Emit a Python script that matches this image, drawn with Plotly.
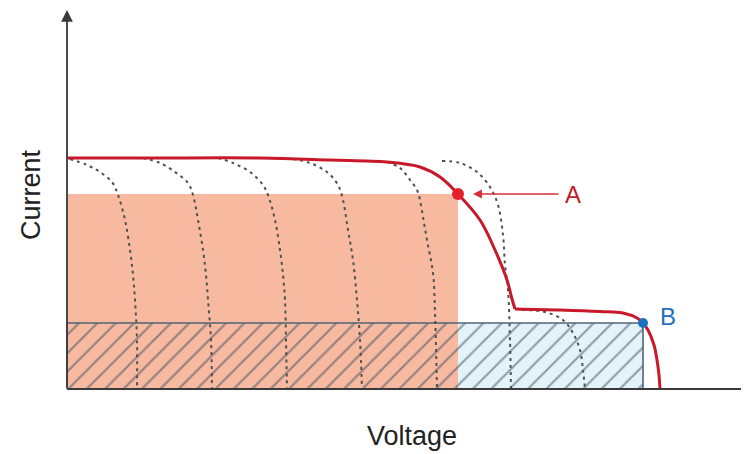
import plotly.graph_objects as go

# ---- data (arbitrary units: voltage, current) ----
main_v1 = [0, 8.3, 19.3, 26.3, 32.0, 35.3, 37.3, 39.1, 41.3, 42.8, 44.0, 44.5, 44.8]
main_i1 = [23.1, 23.1, 23.1, 22.9, 22.7, 22.2, 21.2, 19.5, 16.9, 13.9, 10.9, 9.0, 8.0]
main_v2 = [44.8, 49.3, 53.3, 55.6, 57.0, 57.6, 58.1, 58.7, 59.0, 59.2, 59.3]
main_i2 = [8.0, 7.9, 7.75, 7.6, 7.1, 6.6, 5.9, 4.4, 2.9, 1.4, 0.0]

cell_v = [
    [0.3, 2.0, 3.3, 4.5, 5.1, 5.8, 6.3, 6.6, 6.8, 7.0, 7.0],
    [7.6, 9.3, 10.8, 12.1, 12.6, 13.1, 13.6, 13.9, 14.1, 14.4, 14.5],
    [15.1, 16.6, 18.3, 19.6, 20.1, 20.8, 21.3, 21.6, 21.8, 21.9, 22.0],
    [22.6, 24.3, 26.0, 27.1, 27.6, 28.1, 28.6, 29.0, 29.3, 29.5],
    [32.0, 33.3, 34.3, 35.0, 35.3, 35.6, 36.0, 36.6, 36.8, 37.0],
    [37.5, 39.3, 41.0, 42.3, 43.1, 43.6, 43.8, 44.1, 44.3, 44.4],
    [45.5, 47.8, 49.6, 50.6, 51.3, 51.6, 51.8],
]
cell_i = [
    [23.0, 22.4, 21.7, 20.7, 19.4, 16.9, 13.9, 11.4, 8.9, 4.9, 0],
    [23.1, 22.6, 21.7, 20.6, 19.4, 16.9, 13.9, 11.4, 8.9, 4.9, 0],
    [23.1, 22.6, 21.7, 20.4, 19.4, 16.9, 13.9, 11.4, 8.9, 4.9, 0],
    [23.0, 22.6, 21.7, 20.4, 18.9, 15.9, 12.9, 8.9, 4.9, 0],
    [22.7, 22.1, 20.9, 19.9, 18.9, 17.2, 14.9, 11.6, 7.6, 0],
    [22.8, 22.6, 21.7, 20.2, 18.4, 15.4, 12.4, 9.9, 4.9, 0],
    [7.9, 7.7, 6.9, 5.6, 3.9, 1.9, 0],
]

point_a = (39.1, 19.5)
point_b = (57.6, 6.6)
labels = ["A", "B"]
axis_titles = ["Voltage", "Current"]

FONT = "Liberation Sans, Arial, sans-serif"

fig = go.Figure()

# salmon power rectangle (point A)
fig.add_trace(go.Scatter(
    x=[0, point_a[0], point_a[0], 0, 0], y=[0, 0, point_a[1], point_a[1], 0],
    mode="lines", fill="toself", fillcolor="#f7b9a0", line=dict(width=0),
    hoverinfo="skip"))
# light blue part of rectangle B
fig.add_trace(go.Scatter(
    x=[point_a[0], point_b[0], point_b[0], point_a[0], point_a[0]],
    y=[0, 0, point_b[1], point_b[1], 0],
    mode="lines", fill="toself", fillcolor="#e3f3f9", line=dict(width=0),
    hoverinfo="skip"))
# hatched rectangle B
fig.add_trace(go.Scatter(
    x=[0, point_b[0], point_b[0], 0, 0], y=[0, 0, point_b[1], point_b[1], 0],
    mode="lines", fill="toself",
    fillpattern=dict(shape="/", size=13, solidity=0.17, fgcolor="#34495a",
                     bgcolor="rgba(0,0,0,0)"),
    line=dict(width=1.6, color="#4f6578"), hoverinfo="skip"))

# individual cell curves
for vv, ii in zip(cell_v, cell_i):
    fig.add_trace(go.Scatter(
        x=vv, y=ii, mode="lines",
        line=dict(color="#505050", width=2, dash="3px,4px", shape="spline", smoothing=1.0),
        hoverinfo="skip"))

# main curve
for vv, ii in [(main_v1, main_i1), (main_v2, main_i2)]:
    fig.add_trace(go.Scatter(
        x=vv, y=ii, mode="lines",
        line=dict(color="#c8192b", width=3, shape="spline", smoothing=1.0),
        hoverinfo="skip"))

# points
fig.add_trace(go.Scatter(x=[point_a[0]], y=[point_a[1]], mode="markers",
                         marker=dict(color="#e3202c", size=12), hoverinfo="skip"))
fig.add_trace(go.Scatter(x=[point_b[0]], y=[point_b[1]], mode="markers",
                         marker=dict(color="#1f6fc0", size=10), hoverinfo="skip"))

# axes
fig.add_shape(type="line", x0=0, y0=0, x1=68.2, y1=0,
              line=dict(color="#3a3a3a", width=2), layer="above")
fig.add_annotation(x=0, y=37.9, ax=0, ay=0, xref="x", yref="y", axref="x", ayref="y",
                   showarrow=True, arrowhead=2, arrowsize=1.3, arrowwidth=1.8,
                   arrowcolor="#3a3a3a", text="")

# arrow to A
fig.add_annotation(x=40.6, y=point_a[1], ax=49.3, ay=point_a[1], xref="x", yref="y",
                   axref="x", ayref="y", showarrow=True, arrowhead=2, arrowsize=1.2,
                   arrowwidth=1.5, arrowcolor="#d8303a", text="")
fig.add_annotation(x=50.6, y=point_a[1], text=labels[0], showarrow=False,
                   font=dict(family=FONT, size=24, color="#c8192b"))
fig.add_annotation(x=60.1, y=7.3, text=labels[1], showarrow=False,
                   font=dict(family=FONT, size=24, color="#1f6fc0"))

fig.add_annotation(x=34.5, y=-4.7, text=axis_titles[0], showarrow=False,
                   font=dict(family=FONT, size=27, color="#222222"))
fig.add_annotation(x=-3.6, y=19.4, text=axis_titles[1], showarrow=False, textangle=-90,
                   font=dict(family=FONT, size=27, color="#222222"))

# page body has an 8px margin: figure is 741x446 placed at (8,8)
fig.update_layout(
    width=741, height=446, autosize=False,
    margin=dict(l=0, r=0, t=0, b=0),
    paper_bgcolor="white", plot_bgcolor="white",
    showlegend=False,
    xaxis=dict(range=[-5.9, 68.2], visible=False, fixedrange=True),
    yaxis=dict(range=[-6.5, 38.1], visible=False, fixedrange=True),
)

fig.write_html("out.html")
